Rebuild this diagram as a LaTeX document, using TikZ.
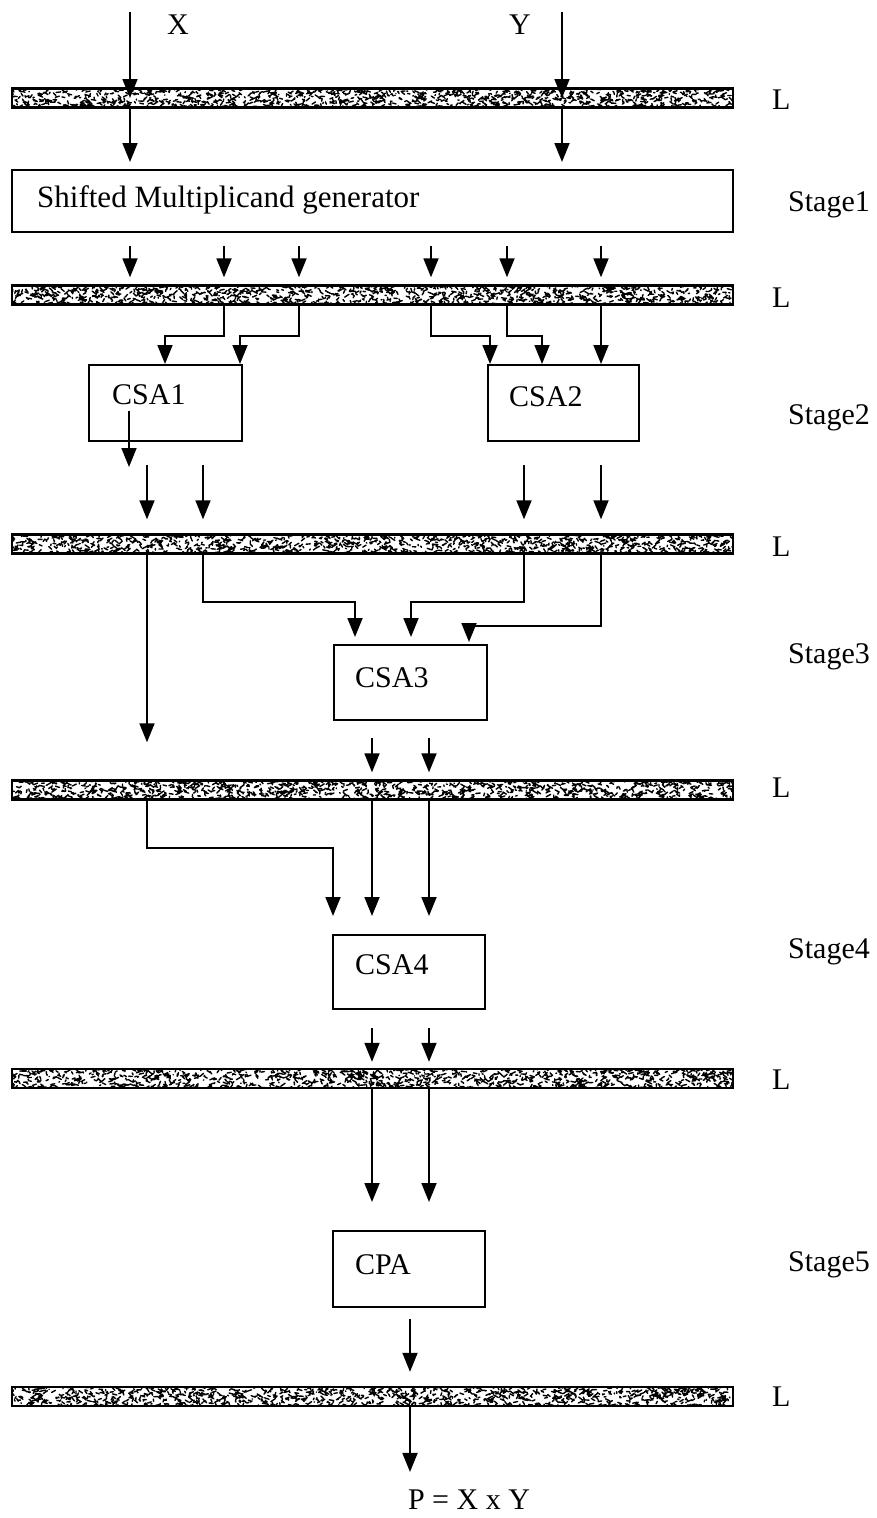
\documentclass[tikz,border=0pt]{standalone}
\usepackage{fontspec}
\setmainfont{Liberation Serif}
\usetikzlibrary{arrows.meta}
\begin{document}
\begin{tikzpicture}[x=1pt,y=-1pt,
  wire/.style={line width=1.8pt},
  arr/.style={wire,-{Triangle[width=15pt,length=19pt]}},
  % pipeline latch: white bar with black speckle
  latch/.style={draw,line width=2.4pt,fill=white,minimum width=721pt,
    minimum height=19pt,inner sep=0pt,
    path picture={\pgfmathsetseed{#1}
      \draw[line width=1.4pt,line cap=round] foreach \k in {1,...,1150}
        { ({721*(rnd-0.5)},{19*(rnd-0.5)}) -- ++({(rnd-0.5)*9},{(rnd-0.5)*6}) };}},
  block/.style={draw,line width=2pt,inner sep=0pt},
  txt/.style={font=\fontsize{30}{36}\selectfont,inner sep=0pt},
]
\useasboundingbox (0,0) rectangle (876,1518);

% latches
\node[latch=11] (L1) at (372.5,98) {};
\node[latch=22] (L2) at (372.5,295) {};
\node[latch=33] (L3) at (372.5,544) {};
\node[latch=44] (L4) at (372.5,790) {};
\node[latch=55] (L5) at (372.5,1078.5) {};
\node[latch=66] (L6) at (372.5,1396.5) {};

% blocks
\node[block,minimum width=721pt,minimum height=62pt] (gen) at (372.5,201) {};
\node[block,minimum width=153pt,minimum height=76pt] (csa1) at (165.5,403) {};
\node[block,minimum width=151pt,minimum height=76pt] (csa2) at (563.5,403) {};
\node[block,minimum width=153pt,minimum height=75pt] (csa3) at (410.5,682.5) {};
\node[block,minimum width=152pt,minimum height=74pt] (csa4) at (409,972) {};
\node[block,minimum width=152pt,minimum height=76pt] (cpa) at (409,1269) {};

% texts
\node[txt,anchor=west,font=\fontsize{31}{36}\selectfont] (gent) at (37,200) {Shifted Multiplicand generator};
\node[txt,anchor=west] (csa1t) at (112,395) {CSA1};
\node[txt,anchor=west] (csa2t) at (509,397) {CSA2};
\node[txt,anchor=west] (csa3t) at (355,678) {CSA3};
\node[txt,anchor=west] (csa4t) at (355,965) {CSA4};
\node[txt,anchor=west] (cpat) at (355,1265) {CPA};
\node[txt] (xt) at (178,25) {X};
\node[txt] (yt) at (520,25) {Y};
\node[txt] (pt) at (469,1500) {P = X x Y};
\foreach \s/\yy in {1/205,2/418,3/657,4/952,5/1265}
  \node[txt,anchor=west] (st\s) at (788,\yy) {Stage\s};
\foreach \s/\yy in {1/100,2/298,3/547,4/788,5/1080,6/1397}
  \node[txt,anchor=west] (lt\s) at (772,\yy) {L};

% column positions
\coordinate (xin) at (130,12);
\coordinate (yin) at (562,12);
\coordinate (c1) at (130,0);
\coordinate (c2) at (224,0);
\coordinate (c3) at (299,0);
\coordinate (c4) at (431,0);
\coordinate (c5) at (507,0);
\coordinate (c6) at (601,0);
\coordinate (d1) at (147,0);
\coordinate (d2) at (203,0);
\coordinate (d3) at (524,0);
\coordinate (d4) at (601,0);
\coordinate (e1) at (372,0);
\coordinate (e2) at (429,0);
\coordinate (f1) at (410,0);

% inputs
\draw[arr] (xin) -- (xin |- L1.center);
\draw[arr] (yin) -- (yin |- L1.center);
\draw[arr,shorten >=7pt] (xin |- L1.south) -- (xin |- gen.north);
\draw[arr,shorten >=7pt] (yin |- L1.south) -- (yin |- gen.north);

% stage 1 -> latch
\foreach \c in {c1,c2,c3,c4,c5,c6}
  \draw[arr,shorten <=13pt,shorten >=7pt] (\c |- gen.south) -- (\c |- L2.north);

% latch -> CSA1, CSA2
\draw[arr] (c2 |- L2.south) |- (165,336) -- (165,0 |- csa1.north);
\draw[arr] (c3 |- L2.south) |- (240,336) -- (240,0 |- csa1.north);
\draw[arr] (c4 |- L2.south) |- (490,336) -- (490,0 |- csa2.north);
\draw[arr] (c5 |- L2.south) |- (542,336) -- (542,0 |- csa2.north);
\draw[arr] (c6 |- L2.south) -- (c6 |- csa2.north);

% CSA1 / CSA2 outputs
\draw[arr] (129,411) -- (129,467);
\foreach \c/\b in {d1/csa1,d2/csa1,d3/csa2,d4/csa2}
  \draw[arr,shorten <=23pt,shorten >=14pt] (\c |- \b.south) -- (\c |- L3.north);

% latch -> CSA3
\draw[arr,shorten >=37pt] (d1 |- L3.south) -- (d1 |- L4.north);
\draw[arr,shorten >=7pt] (d2 |- L3.south) |- (355,602) -- (355,0 |- csa3.north);
\draw[arr,shorten >=7pt] (d3 |- L3.south) |- (411,602) -- (411,0 |- csa3.north);
\draw[arr,shorten >=2pt] (d4 |- L3.south) |- (469,626) -- (469,0 |- csa3.north);

% CSA3 -> latch
\foreach \c in {e1,e2}
  \draw[arr,shorten <=17pt,shorten >=7pt] (\c |- csa3.south) -- (\c |- L4.north);

% latch -> CSA4
\draw[arr,shorten >=18pt] (d1 |- L4.south) |- (333,848) -- (333,0 |- csa4.north);
\foreach \c in {e1,e2}
  \draw[arr,shorten >=18pt] (\c |- L4.south) -- (\c |- csa4.north);

% CSA4 -> latch -> CPA
\foreach \c in {e1,e2}{
  \draw[arr,shorten <=18pt,shorten >=6pt] (\c |- csa4.south) -- (\c |- L5.north);
  \draw[arr,shorten >=28pt] (\c |- L5.south) -- (\c |- cpa.north);
}

% CPA -> latch -> product
\draw[arr,shorten <=11pt,shorten >=14pt] (f1 |- cpa.south) -- (f1 |- L6.north);
\draw[arr,shorten >=18pt] (f1 |- L6.south) -- (f1 |- pt.north);
\end{tikzpicture}
\end{document}
